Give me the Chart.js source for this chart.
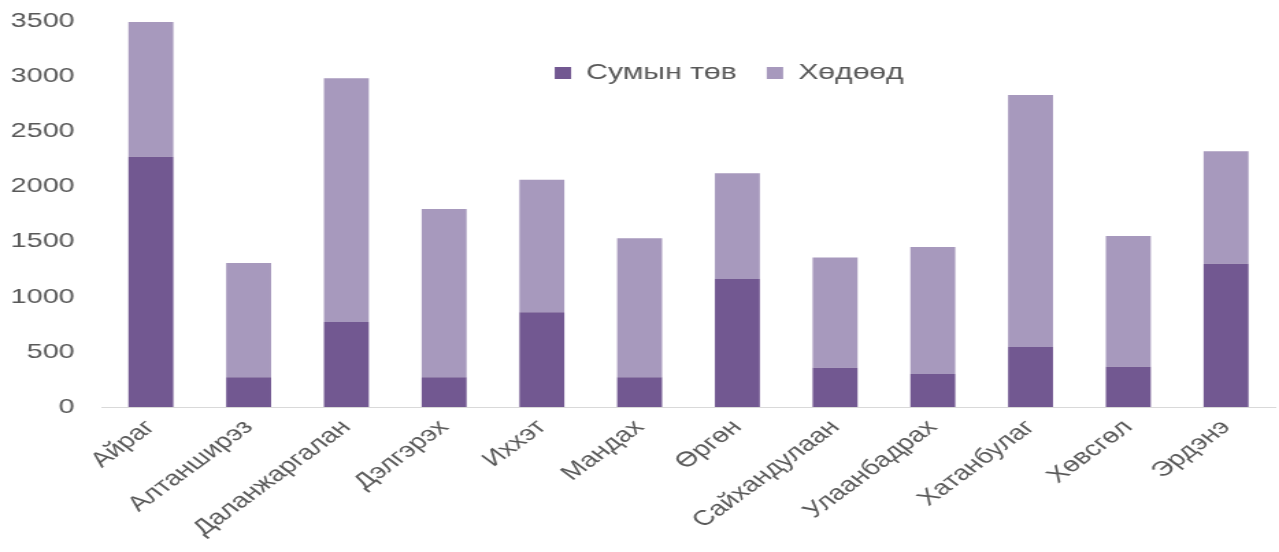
<!DOCTYPE html>
<html>
<head>
<meta charset="utf-8">
<script src="https://cdn.jsdelivr.net/npm/chart.js@4"></script>
<style>
  html, body { margin: 0; padding: 0; background: #fff; overflow: hidden; }
  /* the source picture is stretched sideways, so the chart is drawn narrow and widened */
  #wrap { width: 934px; height: 552px; transform: scaleX(1.3694); transform-origin: 0 0; }
</style>
</head>
<body>
<div id="wrap"><canvas id="soumChart" width="934" height="552"></canvas></div>
<script>
const soums = ['Айраг', 'Алтанширэз', 'Даланжаргалан', 'Дэлгэрэх', 'Иххэт', 'Мандах',
  'Өргөн', 'Сайхандулаан', 'Улаанбадрах', 'Хатанбулаг', 'Хөвсгөл', 'Эрдэнэ'];
const sumCenter = [2270, 270, 770, 270, 860, 270, 1160, 355, 300, 545, 365, 1300];
const countryside = [1220, 1035, 2210, 1525, 1200, 1260, 960, 1000, 1150, 2285, 1185, 1020];
const seriesNames = ['Сумын төв', 'Хөдөөд'];
const yTicks = [0, 500, 1000, 1500, 2000, 2500, 3000, 3500];

document.addEventListener('DOMContentLoaded', () => {
  try {
    const ctx = document.getElementById('soumChart').getContext('2d');
    Chart.defaults.font.family = '"Liberation Sans", Arial, sans-serif';
    Chart.defaults.color = '#595959';

    // legend takes no room on top and is moved down into the plot, as in the picture
    const legendInside = {
      id: 'legendInside',
      beforeLayout(chart) {
        const lg = chart.legend;
        if (lg && !lg._noHeight) {
          const fit = lg.fit;
          lg.fit = function () { fit.call(this); this.height = 0; };
          lg._noHeight = true;
        }
      },
      afterLayout(chart) {
        const lg = chart.legend;
        if (!lg) return;
        const dx = 67, dy = 19;
        lg.left += dx; lg.right += dx;
        lg.top += dy;
        lg.bottom = lg.top + 80;
        lg.height = 80;
      }
    };

    new Chart(ctx, {
      type: 'bar',
      data: {
        labels: soums,
        datasets: [
          { label: seriesNames[0], data: sumCenter, backgroundColor: '#725891' },
          { label: seriesNames[1], data: countryside, backgroundColor: '#a799bd' }
        ]
      },
      options: {
        responsive: false,
        animation: false,
        categoryPercentage: 1,
        barPercentage: 0.46,
        layout: { padding: { top: 21, right: 3, left: 0, bottom: 0 } },
        plugins: {
          legend: {
            position: 'top',
            align: 'center',
            labels: {
              font: { size: 22 },
              boxWidth: 12,
              boxHeight: 12,
              padding: 22,
              color: '#595959'
            }
          },
          tooltip: { enabled: false }
        },
        scales: {
          x: {
            stacked: true,
            grid: { display: true, drawOnChartArea: false, drawTicks: false },
            border: { display: true, color: '#d9d9d9', width: 1 },
            ticks: { font: { size: 21 }, maxRotation: 45, minRotation: 45, padding: 8, autoSkip: false },
            afterFit(scale) {
              scale.height = 145;
              scale.paddingLeft = 0;
              scale.paddingRight = 0;
            }
          },
          y: {
            stacked: true,
            min: 0,
            max: 3500,
            afterBuildTicks(scale) { scale.ticks = yTicks.map(v => ({ value: v })); },
            grid: { display: false, drawTicks: false },
            border: { display: false },
            ticks: { font: { size: 21 }, padding: 20, callback: v => String(v) },
            afterFit(scale) {
              scale.width = 74.5;
              scale.paddingTop = 0;
              scale.paddingBottom = 0;
            }
          }
        }
      },
      plugins: [legendInside]
    });
  } catch (error) {
    console.error('Chart error:', error);
  }
});
</script>
</body>
</html>
